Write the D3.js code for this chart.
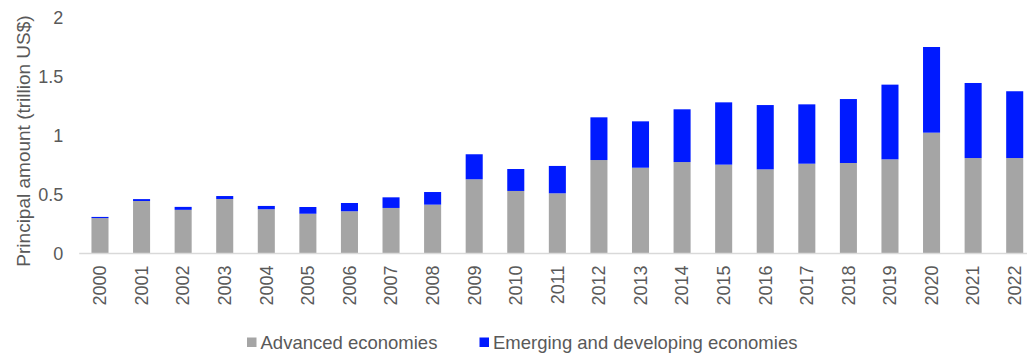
<!DOCTYPE html>
<html>
<head>
<meta charset="utf-8">
<script src="https://cdn.jsdelivr.net/npm/d3@7"></script>
<style>
  html, body { margin: 0; padding: 0; background: #fff; }
  svg { display: block; font-family: "Liberation Sans", Arial, sans-serif; }
</style>
</head>
<body>
<svg id="chart" width="1027" height="356"></svg>
<script>
// Principal amount issued, trillion US$
const years = ["2000","2001","2002","2003","2004","2005","2006","2007","2008","2009","2010","2011",
               "2012","2013","2014","2015","2016","2017","2018","2019","2020","2021","2022"];
const advanced = [0.30, 0.445, 0.37, 0.462, 0.375, 0.337, 0.358, 0.386, 0.414, 0.629, 0.53, 0.51,
                  0.792, 0.727, 0.775, 0.753, 0.713, 0.761, 0.767, 0.798, 1.024, 0.809, 0.809];
const emerging = [0.01, 0.016, 0.025, 0.025, 0.028, 0.057, 0.07, 0.09, 0.107, 0.212, 0.186, 0.232,
                  0.362, 0.393, 0.447, 0.528, 0.545, 0.503, 0.542, 0.633, 0.726, 0.636, 0.566];
const yTicks = [0, 0.5, 1, 1.5, 2];
const seriesNames = ["Advanced economies", "Emerging and developing economies"];
const seriesColors = ["#a5a5a5", "#001aff"];

const svg = d3.select("#chart");
const plot = { left: 79.2, right: 1035.5, top: 17.5, bottom: 253.5 };

const x = d3.scaleBand()
  .domain(years)
  .range([plot.left, plot.right])
  .paddingInner(0.59)
  .paddingOuter(0.295);

const y = d3.scaleLinear()
  .domain([0, 2])
  .range([plot.bottom, plot.top]);

const rows = years.map((yr, i) => ({ year: yr, advanced: advanced[i], emerging: emerging[i] }));
const stacked = d3.stack().keys(["advanced", "emerging"])(rows);

// stacked bars
svg.append("g")
  .selectAll("g")
  .data(stacked)
  .join("g")
  .attr("fill", (d, i) => seriesColors[i])
  .selectAll("rect")
  .data(d => d)
  .join("rect")
  .attr("x", d => x(d.data.year))
  .attr("width", x.bandwidth())
  .attr("y", d => y(d[1]))
  .attr("height", d => y(d[0]) - y(d[1]));

// baseline
svg.append("line")
  .attr("x1", plot.left).attr("x2", plot.right)
  .attr("y1", y(0)).attr("y2", y(0))
  .attr("stroke", "#d9d9d9").attr("stroke-width", 1.5);

// y axis labels
const yAxis = svg.append("g")
  .attr("transform", `translate(${plot.left - 16},0)`)
  .call(d3.axisLeft(y).tickValues(yTicks).tickSize(0).tickPadding(0).tickFormat(d3.format("")));
yAxis.select(".domain").remove();
yAxis.selectAll("text")
  .attr("fill", "#595959")
  .style("font-size", "18px")
  .attr("dy", "0.35em");

// x axis labels (rotated)
const xAxis = svg.append("g")
  .attr("transform", `translate(0,${y(0)})`)
  .call(d3.axisBottom(x).tickSize(0).tickPadding(0));
xAxis.select(".domain").remove();
xAxis.selectAll("text")
  .attr("fill", "#595959")
  .style("font-size", "18px")
  .attr("text-anchor", "end")
  .attr("transform", "rotate(-90)")
  .attr("x", -12)
  .attr("y", 0)
  .attr("dy", "0.35em");

// y axis title
svg.append("text")
  .attr("transform", "translate(23,141) rotate(-90)")
  .attr("text-anchor", "middle")
  .attr("dy", "0.35em")
  .attr("fill", "#595959")
  .style("font-size", "19px")
  .text("Principal amount (trillion US$)");

// legend
const legendX = [247, 479.5];
const legend = svg.append("g");
seriesNames.forEach((name, i) => {
  legend.append("rect")
    .attr("x", legendX[i]).attr("y", 337.5)
    .attr("width", 9.5).attr("height", 9.5)
    .attr("fill", seriesColors[i]);
  legend.append("text")
    .attr("x", legendX[i] + 13.5).attr("y", 348.5)
    .attr("fill", "#595959")
    .style("font-size", "18.5px")
    .text(name);
});
</script>
</body>
</html>
